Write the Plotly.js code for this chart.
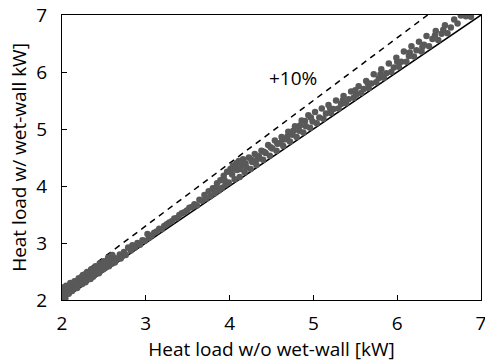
<!DOCTYPE html>
<html><head><meta charset="utf-8">
<script src="https://cdn.plot.ly/plotly-3.0.1.min.js"></script>
<style>html,body{margin:0;padding:0;background:#fff}#c{width:485px;height:362px}</style>
</head><body><div id="c"></div>
<script>
const xs = [2.00,2.00,2.01,2.02,2.03,2.04,2.05,2.06,2.07,2.09,2.10,2.11,2.13,2.14,2.16,2.17,2.19,2.20,2.22,2.23,2.25,2.26,2.28,2.30,2.31,2.33,2.35,2.36,2.38,2.40,2.41,2.43,2.45,2.47,2.48,2.50,2.52,2.54,2.56,2.58,2.60,2.62,2.64,2.66,2.69,2.71,2.12,2.24,2.37,2.50,
2.02,2.06,2.10,2.15,2.20,2.25,2.30,2.35,2.40,2.45,2.50,2.55,2.60,
2.08,2.18,2.28,2.34,2.44,2.56,2.63,2.70,
2.74,2.76,2.79,2.82,2.84,2.87,2.90,2.93,2.96,2.99,3.02,3.04,
3.07,3.10,3.13,3.16,3.19,3.22,3.25,3.28,3.31,3.34,3.37,3.40,3.43,3.46,3.49,3.52,3.55,3.58,3.61,3.64,
3.67,3.70,3.72,3.75,3.77,3.80,3.82,3.85,3.87,3.89,3.91,3.93,3.95,3.97,3.99,4.01,4.03,4.04,4.06,4.08,4.09,4.11,4.12,4.14,4.16,4.18,4.20,
3.84,3.94,4.02,4.07,4.13,4.19,4.26,4.33,4.41,4.49,4.57,4.63,4.69,4.76,4.84,4.90,4.97,
4.23,4.25,4.27,4.30,4.32,4.35,4.38,4.40,4.43,4.46,4.48,4.51,4.54,4.56,4.59,4.62,4.64,4.67,4.70,4.72,4.75,4.78,4.80,4.83,4.86,4.88,4.91,4.94,4.96,4.99,
5.02,5.04,5.07,5.10,5.12,5.15,5.18,5.21,5.24,5.27,5.30,5.33,5.36,5.39,5.42,5.45,5.48,5.51,5.54,5.57,5.60,5.63,5.66,5.69,5.72,5.75,5.78,5.81,5.84,5.87,5.90,5.93,5.96,
5.20,5.35,5.50,5.65,5.80,6.00,6.15,6.30,6.45,6.55,
5.99,6.02,6.05,6.08,6.11,6.14,6.17,6.20,6.23,6.26,6.29,6.32,6.35,6.38,6.42,6.46,6.49,6.53,6.57,6.60,6.64,6.68,6.72,6.76,6.82,6.88];
const ys = [2.05,2.15,2.22,2.09,2.18,2.03,2.25,2.12,2.20,2.15,2.27,2.19,2.23,2.30,2.21,2.33,2.26,2.36,2.29,2.38,2.32,2.41,2.35,2.44,2.37,2.47,2.40,2.51,2.43,2.54,2.47,2.57,2.50,2.60,2.53,2.63,2.57,2.66,2.61,2.70,2.64,2.74,2.69,2.73,2.80,2.76,2.16,2.28,2.41,2.55,
2.19,2.24,2.30,2.33,2.38,2.44,2.49,2.54,2.59,2.64,2.68,2.74,2.79,
2.11,2.21,2.31,2.37,2.47,2.59,2.66,2.73,
2.84,2.79,2.92,2.87,2.96,2.92,3.00,2.97,3.05,3.04,3.16,3.09,
3.13,3.18,3.20,3.25,3.24,3.30,3.33,3.36,3.38,3.43,3.44,3.49,3.52,3.54,3.57,3.62,3.63,3.68,3.66,3.76,
3.74,3.84,3.78,3.91,3.82,3.96,3.87,4.05,3.92,4.10,3.97,4.18,4.02,4.25,4.06,4.30,4.20,4.36,4.12,4.40,4.28,4.44,4.16,4.38,4.47,4.24,4.33,
3.98,4.10,4.24,4.33,4.30,4.40,4.46,4.47,4.60,4.68,4.74,4.81,4.87,4.97,5.06,5.14,5.20,
4.50,4.30,4.42,4.56,4.37,4.52,4.62,4.46,4.58,4.72,4.53,4.66,4.80,4.62,4.75,4.86,4.70,4.82,4.95,4.78,4.90,5.05,4.86,4.97,5.15,4.94,5.05,5.24,5.02,5.13,
5.30,5.10,5.20,5.36,5.18,5.27,5.42,5.28,5.35,5.50,5.36,5.44,5.58,5.45,5.52,5.66,5.55,5.60,5.75,5.63,5.70,5.84,5.72,5.80,5.96,5.82,5.89,6.05,5.90,5.98,6.15,6.00,6.08,
5.36,5.50,5.68,5.80,5.96,6.18,6.34,6.44,6.64,6.74,
6.25,6.09,6.18,6.36,6.18,6.28,6.45,6.27,6.38,6.53,6.36,6.48,6.63,6.45,6.58,6.72,6.56,6.67,6.82,6.68,6.78,6.92,6.85,6.99,6.98,6.97];
const equalX = [2, 7];
const equalY = [2, 7];
const plus10X = [2, 7/1.1];
const plus10Y = [2.2, 7];
const tickVals = [2,3,4,5,6,7];

const font = {family: "Open Sans, Liberation Sans, sans-serif", size: 19, color: "#000"};
const traces = [
  {x: equalX, y: equalY, mode: "lines", line: {color: "#000", width: 1.5}, hoverinfo: "skip"},
  {x: plus10X, y: plus10Y, mode: "lines", line: {color: "#000", width: 1.5, dash: "6px,5px"}, hoverinfo: "skip"},
  {x: xs, y: ys, mode: "markers", marker: {color: "#595959", size: 6.5}, cliponaxis: true}
];
const axis = {
  range: [2, 7], tickvals: tickVals, ticks: "inside", ticklen: 5, tickcolor: "#000",
  showline: true, linecolor: "#000", linewidth: 1, mirror: true, showgrid: false, zeroline: false,
  tickfont: font, ticklabeloverflow: "allow"
};
const layout = {
  width: 485, height: 362,
  margin: {l: 62, r: 4, t: 15, b: 62},
  showlegend: false,
  paper_bgcolor: "#fff", plot_bgcolor: "#fff",
  font: font,
  xaxis: Object.assign({}, axis, {ticklabelstandoff: 6, title: {text: "Heat load w/o wet-wall [kW]", font: font, standoff: 0}}),
  yaxis: Object.assign({}, axis, {ticklabelstandoff: 10, title: {text: "Heat load w/ wet-wall kW]", font: font, standoff: 4}}),
  annotations: [{x: 4.76, y: 5.9, text: "+10%", showarrow: false, font: font}]
};
Plotly.newPlot("c", traces, layout, {displayModeBar: false, staticPlot: true});
</script></body></html>
